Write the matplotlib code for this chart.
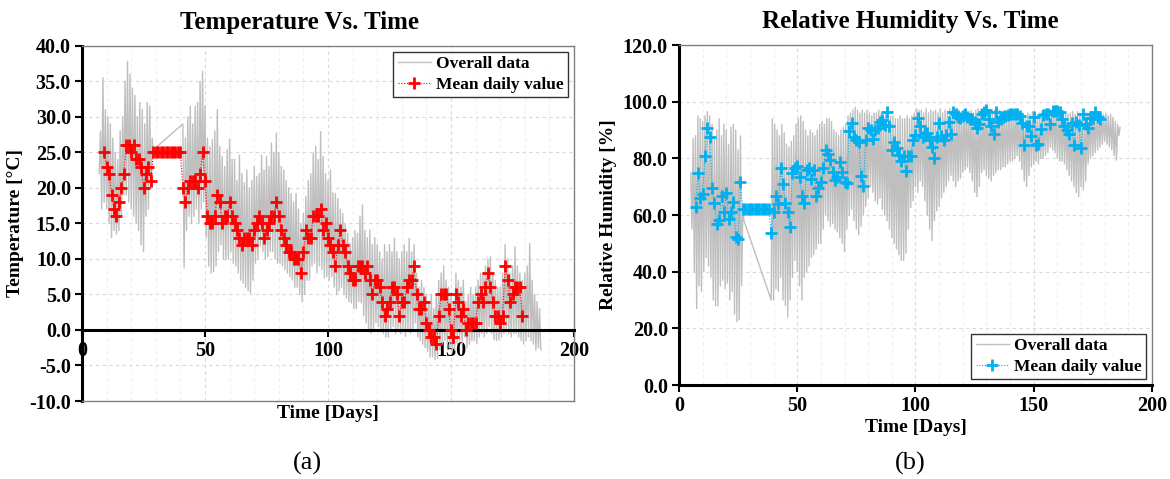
import matplotlib
matplotlib.use("Agg")
import matplotlib.pyplot as plt
from matplotlib.ticker import MultipleLocator

plt.rcParams['font.family'] = ['Liberation Serif', 'DejaVu Serif']
plt.rcParams['font.weight'] = 'bold'

# ---------------- Temperature data ----------------
# overall data (hourly record) summarised as daily max / min
temp_seg1_days = list(range(7, 30))
temp_seg1_max = [28, 35.5, 31, 30, 29, 27, 25, 24, 28, 30, 35, 37.8, 36, 34, 33, 30, 32, 31, 29, 32, 31.5, 27, 25.5]
temp_seg1_min = [22, 17, 18, 17, 15, 13, 14, 13.5, 14, 16, 19, 19, 18, 17, 16, 15, 14, 12, 11, 16, 17, 20, 25]

temp_seg2_days = list(range(41, 187))
temp_seg2_max = [29, 27, 30, 31.5, 29, 31.5, 32, 35, 36.4, 31.5,
                 27, 25.8, 26.8, 28, 31, 25.8, 24.4, 23, 25.4, 26.8,
                 24, 24, 21, 24.6, 22, 20.7, 22.5, 20, 21, 23,
                 21.6, 22, 24.6, 22.5, 24.4, 23, 26.3, 25, 27.7, 24.9,
                 23, 22.5, 21, 20, 19.2, 18, 19.2, 17, 15, 16.4,
                 18.8, 21, 22, 24.9, 25.8, 24, 27.9, 24.4, 22, 21,
                 22.5, 19.3, 19.2, 18.5, 17, 16.4, 15, 13.6, 12.2, 13,
                 14, 13.6, 16, 17.6, 14, 13, 14.1, 12, 13, 12,
                 11, 10, 12, 11, 12, 11, 12.9, 11, 10, 11,
                 12, 11, 12.9, 11, 12, 8, 6, 7, 6, 5,
                 4, 5, 3, 5, 7, 8, 9, 7, 6, 5,
                 4, 8, 7, 6, 7, 4, 5, 6, 5, 6,
                 7, 8, 8, 9, 10, 10.3, 8, 7, 6, 6,
                 8, 12, 10, 8, 9, 11.7, 9, 8, 7, 8,
                 9, 12.2, 7, 5, 4, 3]
temp_seg2_min = [8.7, 14, 16, 15, 16, 17, 15, 17, 18, 13,
                 9, 8, 8.2, 9, 11, 12, 10, 9.9, 10, 11,
                 9.4, 9, 8, 7, 6.6, 6, 5.5, 5.2, 7, 9.4,
                 10, 11.8, 11, 10, 10.3, 11, 11, 10, 9.4, 9.4,
                 9, 8.5, 8, 7.5, 7, 6, 6, 5, 4, 5,
                 7, 7, 9, 9.4, 8, 9, 8.5, 7.3, 7.5, 7,
                 7.5, 6, 5, 5.5, 6, 5, 4.5, 4, 3.8, 3,
                 3, 4, 3.8, 2, 1, 0, -0.5, 0, 1, 0.5,
                 0, -0.5, -1, -1, 0, 0.5, -0.5, 0, -0.5, 0,
                 -0.9, 0, -0.5, 0, 1, -1, -1.5, -2, -2.5, -3,
                 -3.8, -3.8, -4.2, -4, -2.8, -2, -1.5, -2, -2.5, -3,
                 -2.8, -1.9, -1.5, -2, -1, -2.5, -2, -1.5, -1.5, -1.9,
                 -1, -0.5, -1, -0.5, 0.5, -0.5, -1.4, -1.5, -1.4, -1,
                 -0.5, 0, -0.5, -1, -0.5, -0.5, -1, -1.5, -2, -1.5,
                 -1, -1.5, -2, -2.8, -2.5, -2.8]

# mean daily values
temp_mean_days = list(range(9, 180))
temp_mean = [25, 23, 22, 19, 17, 16, 18, 20, 22, 26,
             26, 25, 26, 24, 24, 23, 20, 22, 23, 21,
             25, 25, 25, 25, 25, 25, 25, 25, 25, 25,
             25, 25, 20, 18, 20, 21, 21, 21, 20, 22,
             25, 21, 16, 15, 15, 16, 19, 18, 15, 16,
             16, 18, 16, 15, 14, 13, 12, 13, 13, 13,
             12, 14, 15, 16, 15, 13, 14, 15, 16, 16,
             18, 16, 14, 13, 12, 11, 11, 10, 10, 10,
             8, 11, 14, 13, 13, 16, 16, 16, 17, 14,
             15, 13, 12, 11, 9, 12, 14, 12, 11, 9,
             8, 7, 7, 9, 9, 9, 8, 9, 7, 5,
             7, 7, 6, 4, 2, 3, 4, 6, 6, 5,
             2, 4, 4, 6, 7, 7, 9, 5, 3, 3,
             4, 1, 0, -1, -1, -2, 2, 5, 5, 5,
             3, 0, -1, 5, 4, 2, 3, 0, 1, 1,
             1, 1, 4, 5, 4, 6, 8, 6, 4, 2,
             2, 1, 2, 9, 7, 4, 5, 6, 6, 6,
             2]

# ---------------- Relative humidity data ----------------
rh_seg1_days = list(range(5, 28))
rh_seg1_max = [75, 87, 88, 95, 94, 93, 95, 96.5, 95, 92, 87, 90, 94, 88, 92, 90, 85, 91, 92, 90, 83, 88, 62]
rh_seg1_min = [55, 40, 27, 35, 33, 40, 45, 42, 38, 30, 28, 28, 35, 37, 34, 36, 30, 33, 25, 22.4, 23, 35, 58]

rh_seg2_days = list(range(39, 187))
rh_seg2_max = [94, 92, 90, 88, 92, 89, 85, 84, 86, 88,
               92, 94, 95, 93, 90, 88, 90, 89, 88, 90,
               92, 93, 92, 94, 94, 93, 90, 89, 88, 90,
               91, 92, 95, 96, 97, 98, 97, 96, 97, 96,
               97, 96, 95, 96, 96, 97, 96, 95, 96, 94,
               95, 95, 94, 94, 95, 94, 94, 95, 94, 95,
               96, 97.5, 97, 97, 96, 97.5, 96, 97, 96.5, 97,
               96, 97.5, 96, 97, 96.5, 97.5, 97, 96, 97.5, 97,
               96.5, 97, 97.5, 96.5, 97, 96, 97, 97.5, 96.5, 97,
               97.5, 97, 96.5, 96, 97, 97.5, 97, 96.5, 97, 96.5,
               97, 96.5, 97, 96.5, 96, 96.5, 96, 95, 96, 95.5,
               96.5, 96, 95, 96, 96.5, 97, 96.5, 97, 96.5, 97.5,
               97, 97.5, 97, 96.5, 96, 95.5, 96, 96.5, 95.5, 96.5,
               96, 95, 96.5, 96, 95.5, 96.5, 96, 97, 96.5, 96,
               95.5, 96, 95, 95.5, 94.5, 93, 92, 91]
rh_seg2_min = [30, 30, 34, 33, 38, 30, 28, 24, 30, 38,
               44, 40, 35, 30, 38, 40, 42, 45, 46, 48,
               50, 50, 55, 60, 58, 56, 57, 55, 54, 52,
               50, 47, 55, 60, 62, 58, 55, 53, 56, 60,
               63, 66, 70, 68, 65, 64, 66, 62, 60, 58,
               55, 52, 50, 48, 46, 44, 44, 46.5, 55, 62.7,
               65, 70, 68, 72, 70, 65, 60, 55, 51, 58,
               61.5, 63, 66, 68, 70, 72, 74, 72, 70, 72,
               73, 75, 76, 77, 75, 72, 68, 66.5, 70, 75,
               76, 74, 73, 72, 74, 75, 76, 76, 77, 77,
               78, 79, 79, 80, 81, 79, 76, 72, 70, 74,
               77, 78, 79, 78, 80, 80, 81, 82, 84, 83,
               82, 80, 79, 79, 78, 76, 74, 72, 70, 68,
               66.5, 70, 69, 72, 78, 80, 81, 82, 83, 84,
               85, 86, 85, 84, 83, 81, 79.4, 88]

rh_mean_days = list(range(7, 179))
rh_mean = [62.9, 74.9, 65.9, 67.4, 80.8, 90.8, 87.4, 69.6, 64.1, 56.7,
           58.2, 66.8, 60.9, 67.7, 58.6, 60.9, 64.7, 52.1, 51.5, 71.8,
           62, 62, 62, 62, 62, 62, 62, 62, 62, 62,
           62, 62, 53.8, 61.2, 66.8, 64.0, 76.5, 70.9, 64.1, 60.9,
           55.9, 74.9, 76.5, 77.2, 73.3, 66.8, 64.1, 76.0, 76.5, 72.6,
           76.0, 66.8, 69.4, 71.8, 76.5, 82.9, 81.7, 79.4, 75.1, 72.4,
           73.3, 78.6, 75.1, 71.8, 71.2, 89.8, 92.6, 87.4, 86.5, 85.6,
           73.8, 70.4, 86.5, 90.6, 90.0, 86.8, 90.0, 90.6, 93.0, 93.5,
           91.7, 96.5, 91.3, 82.9, 85.9, 83.8, 81.3, 78.9, 80.7, 75.6,
           81.0, 81.0, 86.5, 88.4, 94.4, 91.3, 87.6, 89.0, 89.0, 86.6,
           84.1, 80.0, 87.6, 92.4, 87.8, 86.5, 88.2, 93.0, 88.6, 96.5,
           95.6, 94.6, 94.1, 95.0, 95.8, 94.6, 94.0, 94.0, 93.0, 90.6,
           92.2, 95.8, 96.5, 97.2, 94.0, 91.5, 88.5, 96.5, 93.0, 94.0,
           94.5, 95.0, 95.3, 95.5, 95.8, 95.8, 95.5, 95.0, 92.6, 84.7,
           91.5, 91.5, 88.0, 94.6, 84.7, 85.0, 90.2, 95.2, 95.8, 95.5,
           92.2, 96.7, 96.8, 96.8, 96.5, 93.9, 91.5, 90.0, 88.6, 92.4,
           84.7, 93.0, 91.7, 83.5, 95.8, 92.2, 90.6, 94.1, 94.1, 96.5,
           94.6, 94.0]

GREY = '#BFBFBF'
RED = '#FF0000'
BLUE = '#00B0F0'
TICK_FS = 14.5


def zigzag(days, lo, hi, lo_first=True):
    xs, ys = [], []
    for d, a, b in zip(days, lo, hi):
        first, second = (a, b) if lo_first else (b, a)
        xs += [d, d + 0.5]
        ys += [first, second]
    return xs, ys


fig = plt.figure(figsize=(11.70, 4.79), dpi=100)
ax1 = fig.add_axes([0.0701, 0.1628, 0.4205, 0.7418])
ax2 = fig.add_axes([0.5803, 0.1962, 0.4043, 0.7098])


def style(ax):
    ax.grid(True, which='major', axis='both', color='#D9D9D9', linestyle=(0, (3, 3)), linewidth=0.8)
    ax.grid(True, which='minor', axis='x', color='#EEEEEE', linestyle=(0, (3, 3)), linewidth=0.8)
    ax.set_axisbelow(True)
    for s in ('top', 'right'):
        ax.spines[s].set_color('#808080')
        ax.spines[s].set_linewidth(1.0)
    ax.spines['left'].set_color('black')
    ax.spines['left'].set_linewidth(2.2)
    ax.spines['bottom'].set_color('black')
    ax.spines['bottom'].set_linewidth(2.2)
    ax.xaxis.set_major_locator(MultipleLocator(50))
    ax.xaxis.set_minor_locator(MultipleLocator(10))
    ax.tick_params(axis='x', which='minor', length=0)
    ax.tick_params(axis='both', which='major', direction='out', length=5, width=1.5,
                   labelsize=TICK_FS, colors='black', pad=3)


LEG_KW = dict(frameon=True, fancybox=False, edgecolor='black', handlelength=1.9,
              handletextpad=0.3, borderpad=0.25, labelspacing=0.25, borderaxespad=0.35,
              prop={'weight': 'bold', 'size': 12.5})

# ---- Temperature panel ----
x1a, y1a = zigzag(temp_seg1_days, temp_seg1_min, temp_seg1_max, lo_first=True)
x1b, y1b = zigzag(temp_seg2_days, temp_seg2_min, temp_seg2_max, lo_first=False)
ax1.plot(x1a + x1b, y1a + y1b, color=GREY, lw=1.0, label='Overall data', zorder=2)
ax1.plot(temp_mean_days, temp_mean, color=RED, lw=0.8, linestyle=(0, (1, 1.5)),
         marker='+', markersize=9, markeredgewidth=2, label='Mean daily value', zorder=3)
ax1.set_xlim(0, 200)
ax1.set_ylim(-10, 40)
style(ax1)
ax1.spines['bottom'].set_position(('data', 0))
ax1.axhline(-10, color='#808080', lw=1.0, zorder=5, clip_on=False)
ax1.set_yticks(range(-10, 41, 5))
ax1.set_yticklabels([f'{v:.1f}' for v in range(-10, 41, 5)], fontweight='bold')
ax1.set_xticks(range(0, 201, 50))
ax1.set_xticklabels([str(v) for v in range(0, 201, 50)], fontweight='bold')
ax1.set_title('Temperature Vs. Time', fontsize=18, fontweight='bold', pad=12, x=0.442)
ax1.set_ylabel('Temperature [°C]', fontsize=14, fontweight='bold', labelpad=4)
ax1.text(0.5, -0.012, 'Time [Days]', transform=ax1.transAxes, ha='center', va='top',
         fontsize=14, fontweight='bold')
leg1 = ax1.legend(loc='upper right', **LEG_KW)
leg1.get_frame().set_linewidth(1.0)

# ---- Humidity panel ----
x2a, y2a = zigzag(rh_seg1_days, rh_seg1_min, rh_seg1_max, lo_first=False)
x2b, y2b = zigzag(rh_seg2_days, rh_seg2_min, rh_seg2_max, lo_first=True)
ax2.plot(x2a + x2b, y2a + y2b, color=GREY, lw=1.0, label='Overall data', zorder=2)
ax2.plot(rh_mean_days, rh_mean, color=BLUE, lw=0.8, linestyle=(0, (1, 1.5)),
         marker='+', markersize=9, markeredgewidth=2, label='Mean daily value', zorder=3)
ax2.set_xlim(0, 200)
ax2.set_ylim(0, 120)
style(ax2)
ax2.set_yticks(range(0, 121, 20))
ax2.set_yticklabels([f'{v:.1f}' for v in range(0, 121, 20)], fontweight='bold')
ax2.set_xticks(range(0, 201, 50))
ax2.set_xticklabels([str(v) for v in range(0, 201, 50)], fontweight='bold')
ax2.set_title('Relative Humidity Vs. Time', fontsize=18, fontweight='bold', pad=12, x=0.49)
ax2.set_ylabel('Relative Humidity [%]', fontsize=14, fontweight='bold', labelpad=4)
ax2.set_xlabel('Time [Days]', fontsize=14, fontweight='bold', labelpad=2)
leg2 = ax2.legend(loc='lower right', **LEG_KW)
leg2.get_frame().set_linewidth(1.0)

fig.text(0.263, 0.008, '(a)', ha='center', va='bottom', fontsize=19, fontweight='normal')
fig.text(0.778, 0.008, '(b)', ha='center', va='bottom', fontsize=19, fontweight='normal')

fig.savefig('out.png', dpi=100)
